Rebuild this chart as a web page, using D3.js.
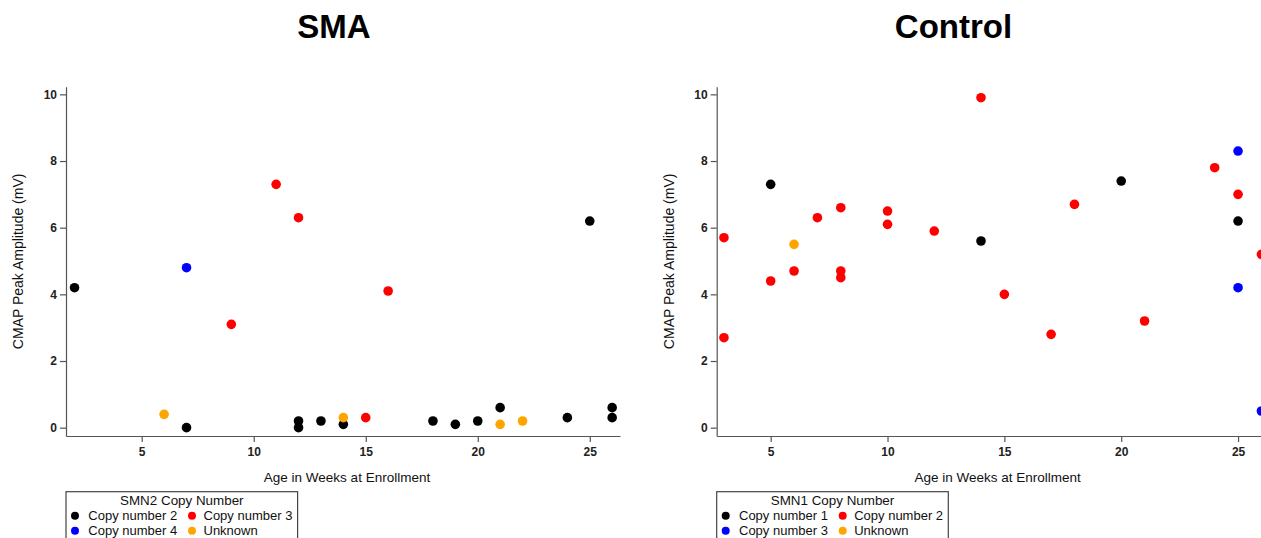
<!DOCTYPE html>
<html>
<head>
<meta charset="UTF-8">
<title>CMAP amplitude by age</title>
<style>
  body { margin: 0; background: #fff; overflow: hidden; }
  svg { display: block; font-family: "Liberation Sans", Arial, sans-serif; }
</style>
</head>
<body>
<div id="chart"></div>
<script src="https://cdnjs.cloudflare.com/ajax/libs/d3/7.8.5/d3.min.js"></script>
<script>
// SMA panel (SMN2 copy number)
var smaAge   = [2, 7, 12, 12, 13, 14, 18, 19, 20, 21, 24, 25, 26, 26,  9, 11, 12, 15, 16,  7,  6, 14, 21, 22];
var smaAmp   = [4.2, 0, 0.2, 0, 0.2, 0.1, 0.2, 0.1, 0.2, 0.6, 0.3, 6.2, 0.6, 0.3,  3.1, 7.3, 6.3, 0.3, 4.1,  4.8,  0.4, 0.3, 0.1, 0.2];
var smaGroup = [0, 0, 0, 0, 0, 0, 0, 0, 0, 0, 0, 0, 0, 0,  1, 1, 1, 1, 1,  2,  3, 3, 3, 3];
var smaLegend = ["Copy number 2", "Copy number 3", "Copy number 4", "Unknown"];

// Control panel (SMN1 copy number)
var ctrlAge   = [5, 14, 20, 25,  3, 3, 5, 6, 7, 8, 8, 8, 10, 10, 12, 14, 15, 17, 18, 21, 24, 25, 26,  25, 25, 26,  6];
var ctrlAmp   = [7.3, 5.6, 7.4, 6.2,  5.7, 2.7, 4.4, 4.7, 6.3, 6.6, 4.7, 4.5, 6.5, 6.1, 5.9, 9.9, 4.0, 2.8, 6.7, 3.2, 7.8, 7.0, 5.2,  8.3, 4.2, 0.5,  5.5];
var ctrlGroup = [0, 0, 0, 0,  1, 1, 1, 1, 1, 1, 1, 1, 1, 1, 1, 1, 1, 1, 1, 1, 1, 1, 1,  2, 2, 2,  3];
var ctrlLegend = ["Copy number 1", "Copy number 2", "Copy number 3", "Unknown"];

var yTicks = [0, 2, 4, 6, 8, 10];
var xTicks = [5, 10, 15, 20, 25];
var colors = ["#000000", "#ff0000", "#0000ff", "#ffa500"];

var width = 1261, height = 538;
var svg = d3.select("#chart").append("svg")
    .attr("width", width)
    .attr("height", height);

var y = d3.scaleLinear().domain([-0.25, 10.23]).range([436, 86.7]);

function drawPanel(p) {
    var g = svg.append("g");
    var x = d3.scaleLinear().domain(p.xDomain).range(p.xRange);
    var left = p.xRange[0];

    g.append("text")
        .attr("x", p.titleX).attr("y", 38)
        .attr("text-anchor", "middle")
        .attr("font-size", 33).attr("font-weight", "bold")
        .text(p.title);

    var yAxis = g.append("g")
        .attr("transform", "translate(" + left + ",0)")
        .call(d3.axisLeft(y).tickValues(yTicks).tickSize(6).tickPadding(3).tickSizeOuter(0));
    var xAxis = g.append("g")
        .attr("transform", "translate(0,436)")
        .call(d3.axisBottom(x).tickValues(xTicks).tickSize(6).tickPadding(5).tickSizeOuter(0));

    [yAxis, xAxis].forEach(function(a) {
        a.selectAll("path, line").attr("stroke", "#555").attr("stroke-width", 1.2);
        a.selectAll("text").attr("font-size", 12).attr("font-weight", "bold")
            .attr("fill", "#222").attr("font-family", "Liberation Sans, Arial, sans-serif");
    });

    g.append("text")
        .attr("transform", "translate(" + (left - 43) + "," + ((y.range()[0] + y.range()[1]) / 2) + ") rotate(-90)")
        .attr("text-anchor", "middle")
        .attr("font-size", 14).attr("fill", "#111")
        .text("CMAP Peak Amplitude (mV)");

    g.append("text")
        .attr("x", left + 281).attr("y", 482)
        .attr("text-anchor", "middle")
        .attr("font-size", 13.5).attr("fill", "#111")
        .text("Age in Weeks at Enrollment");

    var pts = d3.range(p.age.length);
    g.append("g").selectAll("circle")
        .data(pts)
        .enter()
        .append("circle")
        .attr("cx", function(i) { return x(p.age[i]); })
        .attr("cy", function(i) { return y(p.amp[i]); })
        .attr("r", 4.8)
        .attr("fill", function(i) { return colors[p.group[i]]; });

    // legend
    var lg = g.append("g").attr("transform", "translate(" + left + ",491.7)");
    lg.append("rect")
        .attr("x", 0).attr("y", 0)
        .attr("width", 231.6).attr("height", 70)
        .attr("fill", "none").attr("stroke", "#444").attr("stroke-width", 1.2);
    lg.append("text")
        .attr("x", 115.8).attr("y", 13.5)
        .attr("text-anchor", "middle")
        .attr("font-size", 13.4).attr("fill", "#111")
        .text(p.legendTitle);

    var item = lg.selectAll("g.item")
        .data(p.legend)
        .enter()
        .append("g")
        .attr("class", "item")
        .attr("transform", function(d, i) {
            return "translate(" + (i % 2 === 0 ? 9 : 126) + "," + (i < 2 ? 24 : 39) + ")";
        });
    item.append("circle")
        .attr("r", 4)
        .attr("fill", function(d, i) { return colors[i]; });
    item.append("text")
        .attr("x", function(d, i) { return i % 2 === 0 ? 13.3 : 11.5; })
        .attr("y", 4.6)
        .attr("font-size", 13).attr("fill", "#111")
        .text(function(d) { return d; });
}

drawPanel({
    title: "SMA", titleX: 334,
    xDomain: [1.62, 26.35], xRange: [66, 620],
    age: smaAge, amp: smaAmp, group: smaGroup,
    legendTitle: "SMN2 Copy Number", legend: smaLegend
});

drawPanel({
    title: "Control", titleX: 953.5,
    xDomain: [2.69, 26.35], xRange: [716.7, 1269.6],
    age: ctrlAge, amp: ctrlAmp, group: ctrlGroup,
    legendTitle: "SMN1 Copy Number", legend: ctrlLegend
});
</script>
</body>
</html>
